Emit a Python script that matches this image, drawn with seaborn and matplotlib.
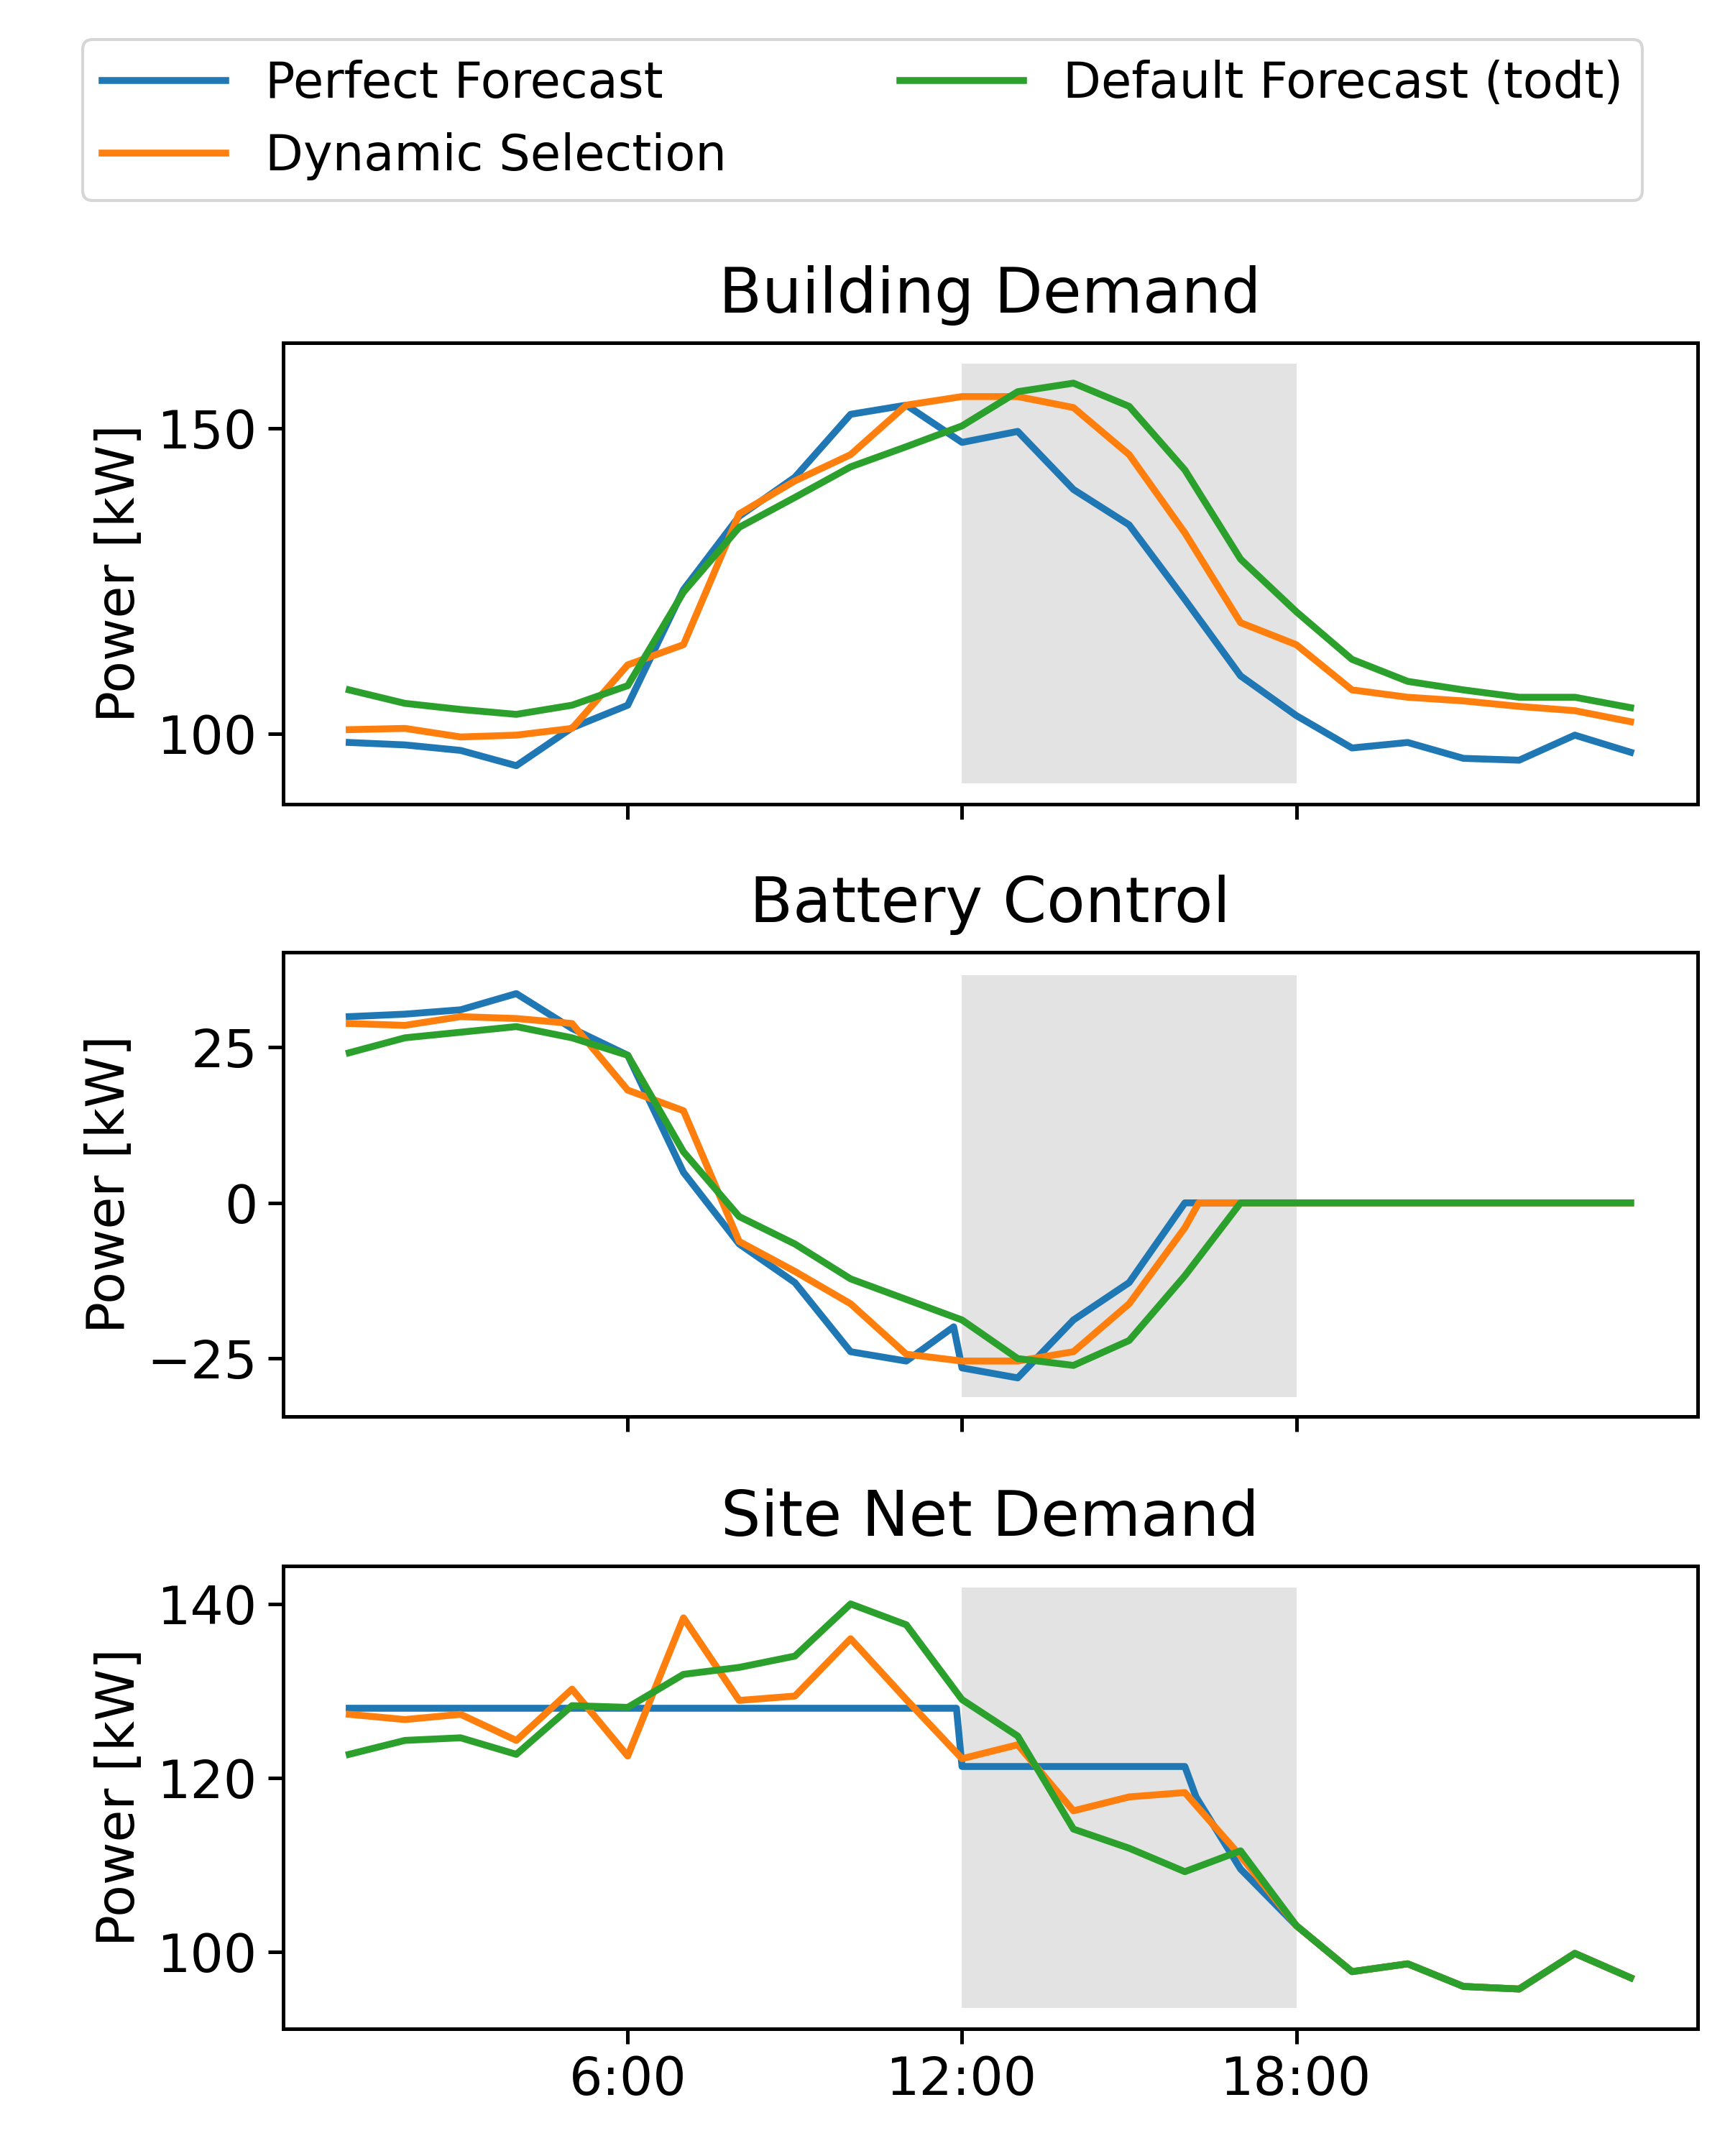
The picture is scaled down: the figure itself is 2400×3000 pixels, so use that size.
import matplotlib
matplotlib.use("Agg")
import matplotlib.pyplot as plt
import seaborn as sns
import numpy as np

hours = list(range(1, 25))

bd_perfect = [98.6, 98.2, 97.3, 94.8, 101, 104.7, 123.6, 135.6, 142, 152.3, 153.8, 147.7,
              149.5, 140, 134.2, 122, 109.5, 103, 97.7, 98.6, 96, 95.7, 99.8, 97]
bd_dynamic = [100.7, 100.9, 99.5, 99.8, 100.9, 111.3, 114.6, 136, 141.4, 145.7, 153.8, 155.2,
              155.2, 153.4, 145.7, 132.9, 118.2, 114.6, 107.2, 106, 105.4, 104.5, 103.8, 102]
bd_default = [107.2, 105, 104, 103.2, 104.7, 107.9, 123.2, 133.8, 138.7, 143.7, 147, 150.4,
              156, 157.4, 153.6, 143.2, 128.6, 120, 112.2, 108.6, 107.2, 106, 106, 104.3]

bc_perfect_x = list(range(1, 12)) + [11.85] + list(range(12, 25))
bc_perfect = [29.9, 30.3, 31, 33.6, 28, 23.7, 4.9, -6.6, -12.8, -23.9, -25.4, -19.9,
              -26.5, -28.1, -18.8, -12.8, 0, 0, 0, 0, 0, 0, 0, 0, 0]
bc_dynamic_x = list(range(1, 17)) + [16.25] + list(range(17, 25))
bc_dynamic = [28.8, 28.5, 29.9, 29.6, 28.8, 18.1, 14.8, -6.2, -11, -16.2, -24.3, -25.4,
              -25.4, -23.9, -16.2, -4, 0, 0, 0, 0, 0, 0, 0, 0, 0]
bc_default = [24.1, 26.5, 27.4, 28.3, 26.5, 23.7, 8.2, -2.2, -6.6, -12.2, -15.5, -18.8,
              -25, -26.1, -22.1, -11.7, 0, 0, 0, 0, 0, 0, 0, 0]

sn_perfect_x = list(range(1, 12)) + [11.9] + list(range(12, 17)) + [16.2] + list(range(17, 25))
sn_perfect = [128] * 12 + [121.3] * 5 + [117.8, 109.5, 103, 97.7, 98.6, 96, 95.7, 99.8, 97]
sn_dynamic = [127.3, 126.7, 127.3, 124.3, 130.2, 122.5, 138.4, 128.9, 129.4, 136, 129, 122.2,
              123.8, 116.2, 117.8, 118.3, 111, 103, 97.7, 98.6, 96, 95.7, 99.8, 97]
sn_default = [122.7, 124.3, 124.6, 122.7, 128.3, 128.1, 131.9, 132.7, 134, 140, 137.6, 129,
              124.8, 114.1, 111.9, 109.2, 111.6, 103, 97.7, 98.6, 96, 95.7, 99.8, 97]

titles = ["Building Demand", "Battery Control", "Site Net Demand"]
labels = ["Perfect Forecast", "Dynamic Selection", "Default Forecast (todt)"]
colors = ["#1f77b4", "#ff7f0e", "#2ca02c"]

panels = [
    [(hours, bd_perfect), (hours, bd_dynamic), (hours, bd_default)],
    [(bc_perfect_x, bc_perfect), (bc_dynamic_x, bc_dynamic), (hours, bc_default)],
    [(sn_perfect_x, sn_perfect), (hours, sn_dynamic), (hours, sn_default)],
]
ylims = [(88.5, 164), (-34.3, 40.3), (91.1, 144.4)]
shade = [(91.9, 160.6), (-31.2, 36.5), (93.5, 141.9)]
yticks = [[100, 150], [-25, 0, 25], [100, 120, 140]]

fig = plt.figure(figsize=(8, 10), dpi=300)
tops = [0.841, 0.5585, 0.2738]
bots = [0.627, 0.343, 0.0589]
axes = []
for i in range(3):
    ax = fig.add_axes([0.164, bots[i], 0.984 - 0.164, tops[i] - bots[i]])
    axes.append(ax)
    ax.fill_between([12, 18], shade[i][0], shade[i][1], color="#e3e3e3", lw=0, zorder=0)
    for (xs, ys), lab, c in zip(panels[i], labels, colors):
        sns.lineplot(x=xs, y=ys, ax=ax, color=c, lw=2.3, label=lab if i == 0 else None,
                     sort=False, estimator=None)
    ax.set_xlim(-0.19, 25.2)
    ax.set_ylim(*ylims[i])
    ax.set_yticks(yticks[i])
    ax.set_xticks([6, 12, 18])
    ax.set_title(titles[i], fontsize=21, pad=10)
    ax.set_ylabel("Power [kW]", fontsize=17.5)
    ax.tick_params(labelsize=17.5, width=1.2, length=5)
    for s in ax.spines.values():
        s.set_linewidth(1.2)
    if i < 2:
        ax.set_xticklabels([])
    else:
        ax.set_xticklabels(["6:00", "12:00", "18:00"])

h, l = axes[0].get_legend_handles_labels()
axes[0].get_legend().remove()
fig.legend(h, l, loc="upper center", bbox_to_anchor=(0.5, 0.993), ncol=2, fontsize=16.5,
           columnspacing=3.5, handlelength=2.5)
fig.savefig("out.png", dpi=300)
